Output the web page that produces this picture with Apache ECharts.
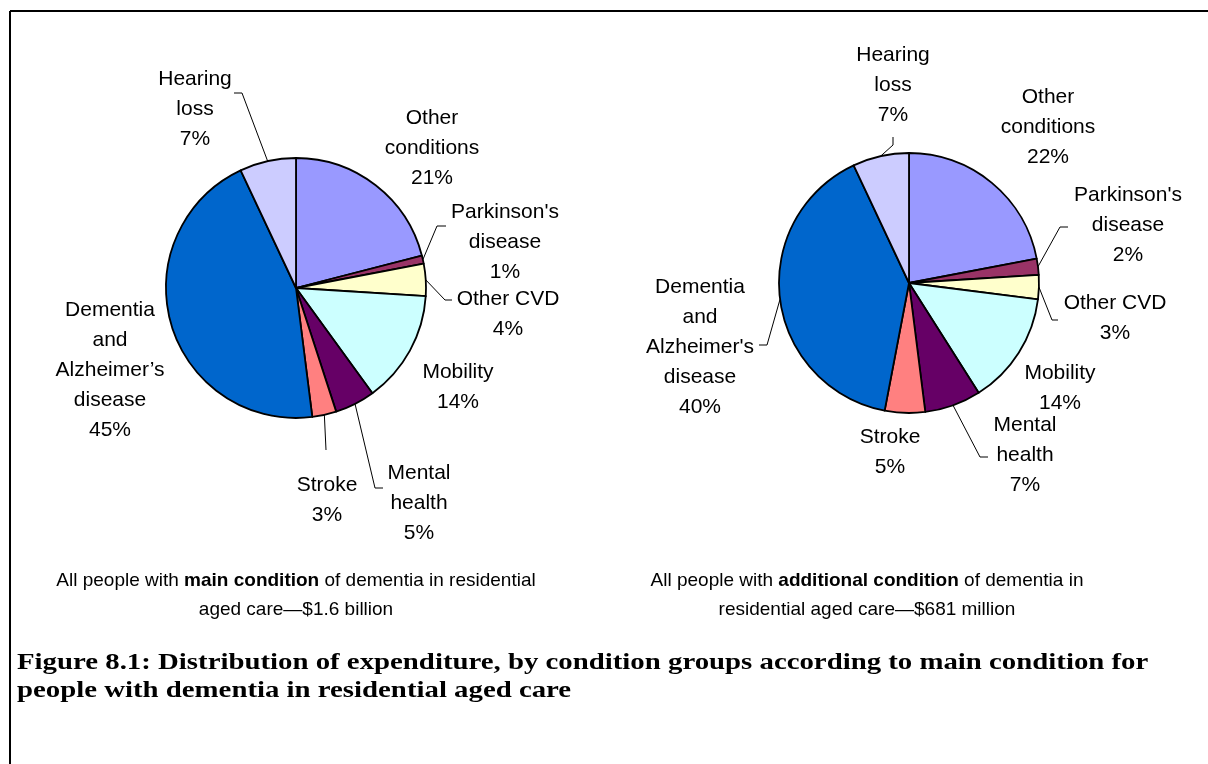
<!DOCTYPE html>
<html>
<head>
<meta charset="utf-8">
<title>Figure 8.1</title>
<script src="https://cdn.jsdelivr.net/npm/echarts@6/dist/echarts.min.js"></script>
<style>
  html, body { margin: 0; padding: 0; background: #fff; }
  #chart { width: 1208px; height: 764px; }
</style>
</head>
<body>
<div id="chart"></div>
<script>
// condition groups, clockwise from 12 o'clock
var categories = ['Other conditions', "Parkinson's disease", 'Other CVD', 'Mobility', 'Mental health', 'Stroke', 'Dementia and Alzheimer’s disease', 'Hearing loss'];
var mainLabels = ['Other\nconditions', "Parkinson's\ndisease", 'Other CVD', 'Mobility', 'Mental\nhealth', 'Stroke', 'Dementia\nand\nAlzheimer’s\ndisease', 'Hearing\nloss'];
var additionalLabels = ['Other\nconditions', "Parkinson's\ndisease", 'Other CVD', 'Mobility', 'Mental\nhealth', 'Stroke', "Dementia\nand\nAlzheimer's\ndisease", 'Hearing\nloss'];
var mainValues = [21, 1, 4, 14, 5, 3, 45, 7];        // % main condition
var additionalValues = [22, 2, 3, 14, 7, 5, 40, 7];  // % additional condition
var colors = ['#9999FF', '#993366', '#FFFFCC', '#CCFFFF', '#660066', '#FF8080', '#0066CC', '#CCCCFF'];

// label placement (label centre, leader elbow/end), per pie
var layouts = [
  [
    { x: 432, y: 148 },
    { x: 505, y: 242, line: [[437, 226], [446, 226]] },
    { x: 508, y: 314, line: [[445, 300], [452, 300]] },
    { x: 458, y: 387 },
    { x: 419, y: 503, line: [[375, 488], [383, 488]] },
    { x: 327, y: 500, line: [[326, 450], [326, 450]] },
    { x: 110, y: 370 },
    { x: 195, y: 109, line: [[242, 93], [234, 93]] }
  ],
  [
    { x: 1048, y: 127 },
    { x: 1128, y: 225, line: [[1060, 227], [1068, 227]] },
    { x: 1115, y: 318, line: [[1052, 320], [1058, 320]] },
    { x: 1060, y: 388 },
    { x: 1025, y: 455, line: [[980, 457], [988, 457]] },
    { x: 890, y: 452 },
    { x: 700, y: 347, line: [[767, 345], [759, 345]] },
    { x: 893, y: 85, line: [[893, 145], [893, 137]] }
  ]
];

var font = "'Liberation Sans', Arial, sans-serif";

function pieData(values, labels, lay) {
  return values.map(function (v, i) {
    return {
      name: categories[i],
      value: v,
      labelText: labels[i],
      itemStyle: { color: colors[i] },
      labelLine: { show: !!lay[i].line }
    };
  });
}

function pieSeries(idx, center, values, labels) {
  var lay = layouts[idx];
  return {
    type: 'pie',
    center: center,
    radius: 130,
    startAngle: 90,
    clockwise: true,
    avoidLabelOverlap: false,
    animation: false,
    silent: true,
    itemStyle: { borderColor: '#000', borderWidth: 1.8 },
    label: {
      show: true,
      position: 'outside',
      fontFamily: font,
      fontSize: 21,
      lineHeight: 30,
      color: '#000',
      align: 'center',
      formatter: function (p) { return p.data.labelText + '\n' + p.value + '%'; }
    },
    labelLine: {
      show: true,
      length: 10,
      length2: 10,
      lineStyle: { color: '#000', width: 1 }
    },
    labelLayout: function (params) {
      var l = lay[params.dataIndex];
      var out = { x: l.x, y: l.y, align: 'center', verticalAlign: 'middle' };
      if (l.line && params.labelLinePoints) {
        out.labelLinePoints = [params.labelLinePoints[0], l.line[0], l.line[1]];
      }
      return out;
    },
    data: pieData(values, labels, lay)
  };
}

var captionRich = {
  n: { fontFamily: font, fontSize: 19, lineHeight: 29, fill: '#000' },
  b: { fontFamily: font, fontSize: 19, lineHeight: 29, fontWeight: 'bold', fill: '#000' }
};

var chart = echarts.init(document.getElementById('chart'));
chart.setOption({
  backgroundColor: '#fff',
  graphic: [
    { type: 'line', shape: { x1: 10, y1: 11, x2: 1208, y2: 11 }, style: { stroke: '#000', lineWidth: 2 } },
    { type: 'line', shape: { x1: 10, y1: 11, x2: 10, y2: 764 }, style: { stroke: '#000', lineWidth: 2 } },
    {
      type: 'text', x: 296, y: 595,
      style: {
        text: '{n|All people with }{b|main condition}{n| of dementia in residential}\n{n|aged care—$1.6 billion}',
        align: 'center', verticalAlign: 'middle',
        rich: captionRich
      }
    },
    {
      type: 'text', x: 867, y: 595,
      style: {
        text: '{n|All people with }{b|additional condition}{n| of dementia in}\n{n|residential aged care—$681 million}',
        align: 'center', verticalAlign: 'middle',
        rich: captionRich
      }
    },
    {
      type: 'text', x: 17, y: 677, scaleX: 1.2,
      style: {
        text: 'Figure 8.1: Distribution of expenditure, by condition groups according to main condition for\npeople with dementia in residential aged care',
        align: 'left', verticalAlign: 'middle',
        fontFamily: "'Liberation Serif', 'Times New Roman', serif",
        fontWeight: 'bold', fontSize: 24, lineHeight: 28, fill: '#000'
      }
    }
  ],
  series: [
    pieSeries(0, [296, 288], mainValues, mainLabels),
    pieSeries(1, [909, 283], additionalValues, additionalLabels)
  ]
});
</script>
</body>
</html>
